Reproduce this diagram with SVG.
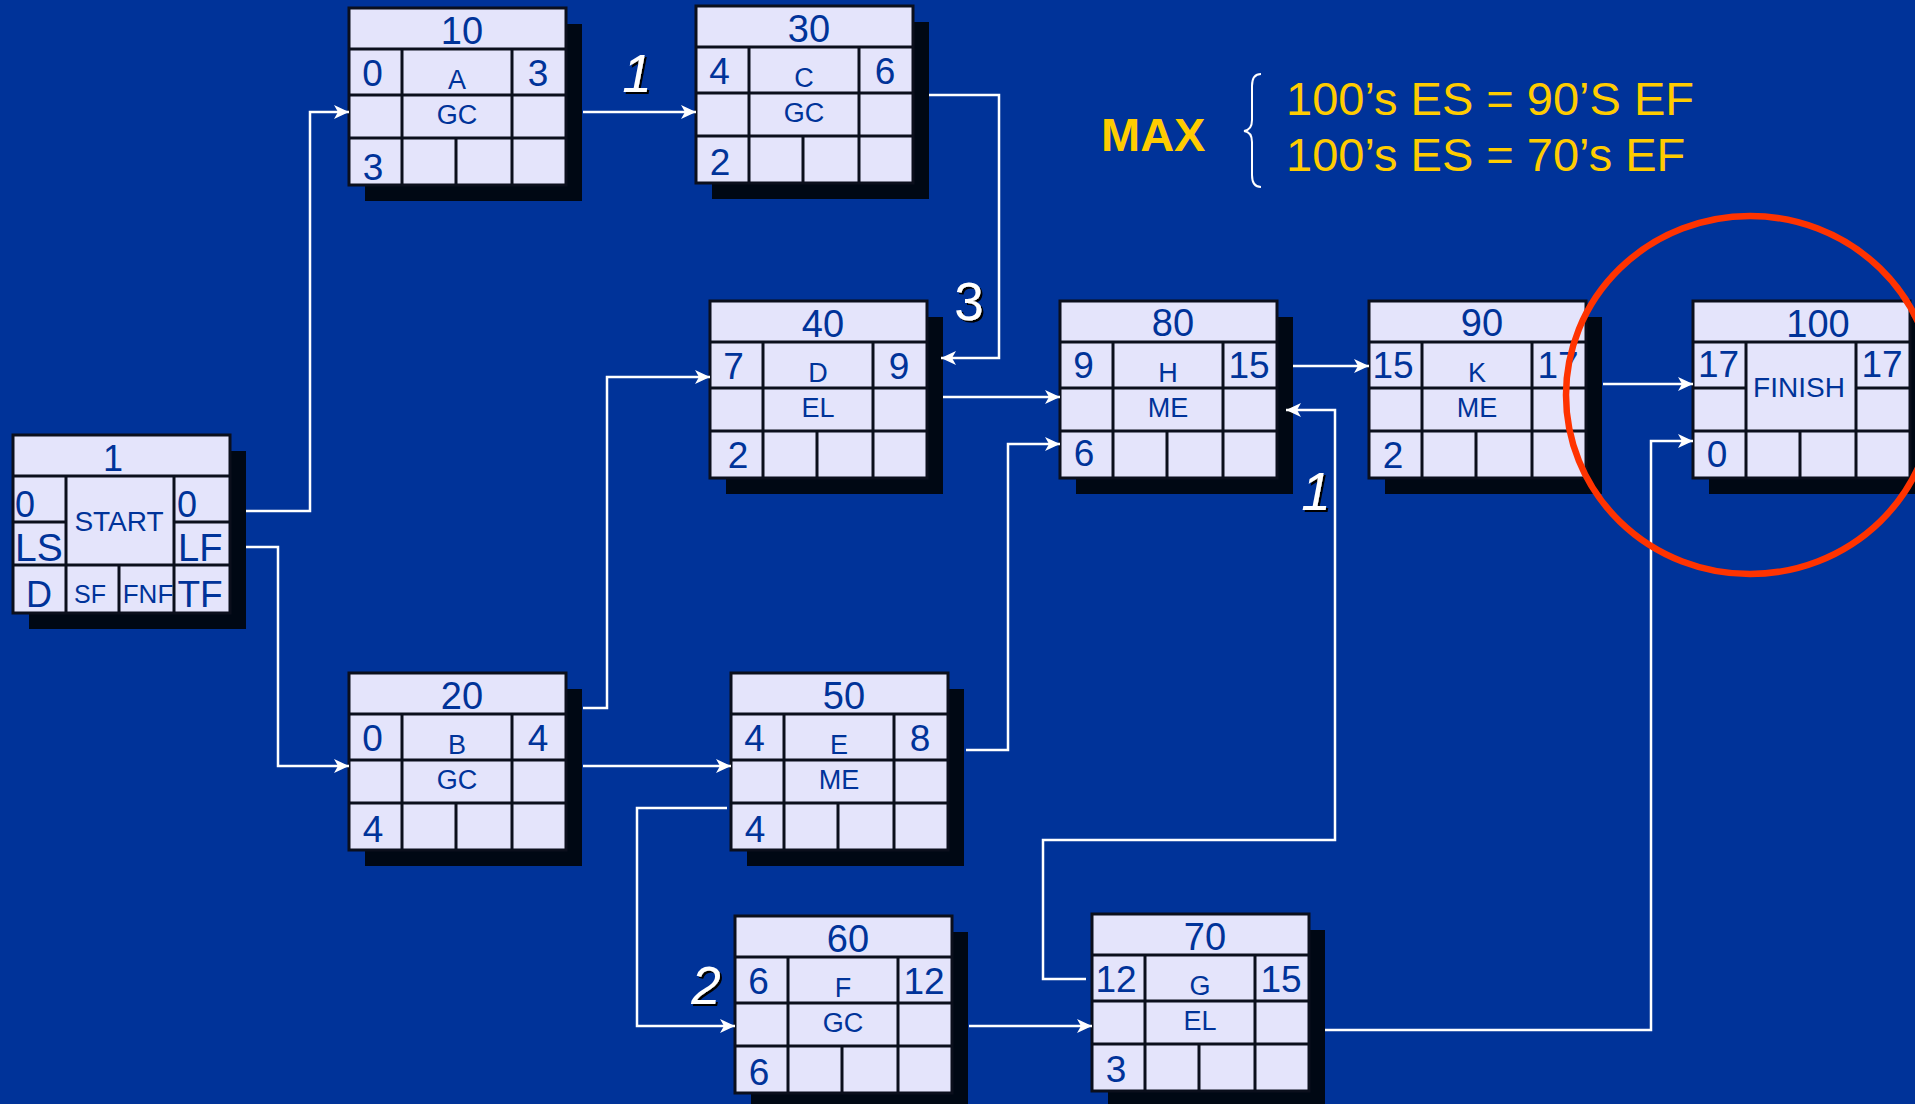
<svg xmlns="http://www.w3.org/2000/svg" xmlns:xlink="http://www.w3.org/1999/xlink" width="1915" height="1104" viewBox="0 0 1915 1104">
<defs>
<style>
.bg{fill:#003399}
.sh{fill:#000814}
.box{fill:#E4E4FB;stroke:#0B0F1C;stroke-width:3}
.gl{stroke:#0B0F1C;stroke-width:3;fill:none}
.t{font-family:"Liberation Sans",Arial,sans-serif;fill:#003399}
.hd{font-size:38px;text-anchor:middle}
.nm{font-size:37px;text-anchor:middle}
.lb{font-size:27px;text-anchor:middle}
.cn{stroke:#FFFFFF;stroke-width:2.5;fill:none}
.arr{marker-end:url(#ah)}
.lag{font-family:"Liberation Sans",Arial,sans-serif;font-size:53px;fill:#FFFFFF;text-anchor:middle;filter:url(#ds)}
.y{font-family:"Liberation Sans",Arial,sans-serif;fill:#FFCC00}
</style>
<marker id="ah" markerUnits="userSpaceOnUse" markerWidth="16" markerHeight="16" refX="15" refY="7" orient="auto">
<path d="M0,0 L15,7 L0,14 L4,7 Z" fill="#FFFFFF"/>
</marker>
<filter id="ds" x="-30%" y="-30%" width="160%" height="160%">
<feDropShadow dx="2" dy="2" stdDeviation="0.6" flood-color="#000000" flood-opacity="1"/>
</filter>
<g id="grid">
<rect class="sh" x="16" y="16" width="217" height="177"/>
<rect class="box" x="0" y="0" width="217" height="177"/>
<path class="gl" d="M0,41 H217 M0,87 H217 M0,130 H217 M53,41 V177 M163,41 V177 M107,130 V177"/>
</g>
<g id="grid2">
<rect class="sh" x="16" y="16" width="217" height="177"/>
<rect class="box" x="0" y="0" width="217" height="177"/>
<path class="gl" d="M0,41 H217 M0,87 H53 M163,87 H217 M0,130 H217 M53,41 V177 M163,41 V177 M107,130 V177"/>
</g>
</defs>
<rect class="bg" x="0" y="0" width="1915" height="1104"/>

<g id="n1" transform="translate(13,435)">
<rect class="sh" x="16" y="16" width="217" height="178"/>
<rect class="box" x="0" y="0" width="217" height="178"/>
<path class="gl" d="M0,41 H217 M0,87 H53 M161,87 H217 M0,130 H217 M53,41 V178 M161,41 V178 M106,130 V178"/>
<text class="t" x="100" y="36" font-size="36" text-anchor="middle">1</text>
<text class="t" x="2" y="82" font-size="36">0</text>
<text class="t" x="2" y="126" font-size="39">LS</text>
<text class="t" x="106" y="96" font-size="28" text-anchor="middle">START</text>
<text class="t" x="164" y="82" font-size="36">0</text>
<text class="t" x="165" y="126" font-size="38">LF</text>
<text class="t" x="26" y="172" font-size="36" text-anchor="middle">D</text>
<text class="t" x="77" y="168" font-size="25" text-anchor="middle">SF</text>
<text class="t" x="135" y="168" font-size="26" text-anchor="middle">FNF</text>
<text class="t" x="187" y="172" font-size="37" text-anchor="middle">TF</text>
</g>

<g id="n10" transform="translate(349,8)">
<use xlink:href="#grid"/>
<text class="t hd" x="113" y="36">10</text>
<text class="t nm" x="23.5" y="78">0</text>
<text class="t lb" x="108" y="81">A</text>
<text class="t nm" x="189" y="78">3</text>
<text class="t lb" x="108" y="116">GC</text>
<text class="t nm" x="24" y="172">3</text>
</g>

<g id="n30" transform="translate(696,6)">
<use xlink:href="#grid"/>
<text class="t hd" x="113" y="36">30</text>
<text class="t nm" x="23.5" y="78">4</text>
<text class="t lb" x="108" y="81">C</text>
<text class="t nm" x="189" y="78">6</text>
<text class="t lb" x="108" y="116">GC</text>
<text class="t nm" x="24" y="169">2</text>
</g>

<g id="n40" transform="translate(710,301)">
<use xlink:href="#grid"/>
<text class="t hd" x="113" y="35.5">40</text>
<text class="t nm" x="23.5" y="78">7</text>
<text class="t lb" x="108" y="81">D</text>
<text class="t nm" x="189" y="78">9</text>
<text class="t lb" x="108" y="116">EL</text>
<text class="t nm" x="28" y="167">2</text>
</g>

<g id="n80" transform="translate(1060,301)">
<use xlink:href="#grid"/>
<text class="t hd" x="113" y="34.5">80</text>
<text class="t nm" x="23.5" y="77">9</text>
<text class="t lb" x="108" y="81">H</text>
<text class="t nm" x="189" y="77">15</text>
<text class="t lb" x="108" y="116">ME</text>
<text class="t nm" x="24" y="165">6</text>
</g>

<g id="n90" transform="translate(1369,301)">
<use xlink:href="#grid"/>
<text class="t hd" x="113" y="34.5">90</text>
<text class="t nm" x="24" y="77">15</text>
<text class="t lb" x="108" y="81">K</text>
<text class="t nm" x="189" y="77">17</text>
<text class="t lb" x="108" y="116">ME</text>
<text class="t nm" x="24" y="167">2</text>
</g>

<g id="n100" transform="translate(1693,301)">
<use xlink:href="#grid2"/>
<text class="t hd" x="125" y="35.5">100</text>
<text class="t nm" x="25.5" y="76">17</text>
<text class="t" x="106" y="96" font-size="28" text-anchor="middle">FINISH</text>
<text class="t nm" x="189" y="76">17</text>
<text class="t nm" x="24" y="166">0</text>
</g>

<g id="n20" transform="translate(349,673)">
<use xlink:href="#grid"/>
<text class="t hd" x="113" y="36">20</text>
<text class="t nm" x="23.5" y="78">0</text>
<text class="t lb" x="108" y="81">B</text>
<text class="t nm" x="189" y="78">4</text>
<text class="t lb" x="108" y="116">GC</text>
<text class="t nm" x="24" y="169">4</text>
</g>

<g id="n50" transform="translate(731,673)">
<use xlink:href="#grid"/>
<text class="t hd" x="113" y="36">50</text>
<text class="t nm" x="23.5" y="78">4</text>
<text class="t lb" x="108" y="81">E</text>
<text class="t nm" x="189" y="78">8</text>
<text class="t lb" x="108" y="116">ME</text>
<text class="t nm" x="24" y="169">4</text>
</g>

<g id="n60" transform="translate(735,916)">
<use xlink:href="#grid"/>
<text class="t hd" x="113" y="36">60</text>
<text class="t nm" x="23.5" y="78">6</text>
<text class="t lb" x="108" y="81">F</text>
<text class="t nm" x="189" y="78">12</text>
<text class="t lb" x="108" y="116">GC</text>
<text class="t nm" x="24" y="169">6</text>
</g>

<g id="n70" transform="translate(1092,914)">
<use xlink:href="#grid"/>
<text class="t hd" x="113" y="36">70</text>
<text class="t nm" x="24" y="78">12</text>
<text class="t lb" x="108" y="81">G</text>
<text class="t nm" x="189" y="78">15</text>
<text class="t lb" x="108" y="116">EL</text>
<text class="t nm" x="24" y="168">3</text>
</g>

<g id="connectors">
<path class="cn arr" d="M246,511 H310 V112 H349"/>
<path class="cn arr" d="M246,547 H278 V766 H349"/>
<path class="cn arr" d="M583,112 H696"/>
<path class="cn arr" d="M929,95 H999 V358 H941"/>
<path class="cn arr" d="M943,397 H1060"/>
<path class="cn arr" d="M1293,366 H1369"/>
<path class="cn arr" d="M1603,384 H1693"/>
<path class="cn arr" d="M583,708 H607 V377 H710"/>
<path class="cn arr" d="M583,766 H731"/>
<path class="cn arr" d="M966,750 H1008 V444 H1060"/>
<path class="cn arr" d="M727,808 H637 V1026 H735"/>
<path class="cn arr" d="M969,1026 H1092"/>
<path class="cn arr" d="M1086,979 H1043 V840 H1335 V410 H1286"/>
<path class="cn arr" d="M1325,1030 H1651 V441 H1693"/>
</g>

<g id="lags">
<text class="lag" x="637" y="92" font-style="italic">1</text>
<text class="lag" x="969" y="320">3</text>
<text class="lag" x="1316" y="510" font-style="italic">1</text>
<text class="lag" x="706" y="1004" font-style="italic">2</text>
</g>

<g id="note">
<text class="y" x="1101" y="151" font-size="47" font-weight="bold">MAX</text>
<path d="M1261,74 Q1252,74 1252,86 V120 Q1252,130 1244,131 Q1252,132 1252,142 V175 Q1252,187 1261,187" fill="none" stroke="#FFFFFF" stroke-width="2"/>
<text class="y" x="1286" y="115" font-size="47">100’s ES = 90’S EF</text>
<text class="y" x="1286" y="171" font-size="47">100’s ES = 70’s EF</text>
</g>

<ellipse id="highlight" cx="1750" cy="395" rx="184" ry="179" fill="none" stroke="#FF3300" stroke-width="6.5"/>
</svg>
